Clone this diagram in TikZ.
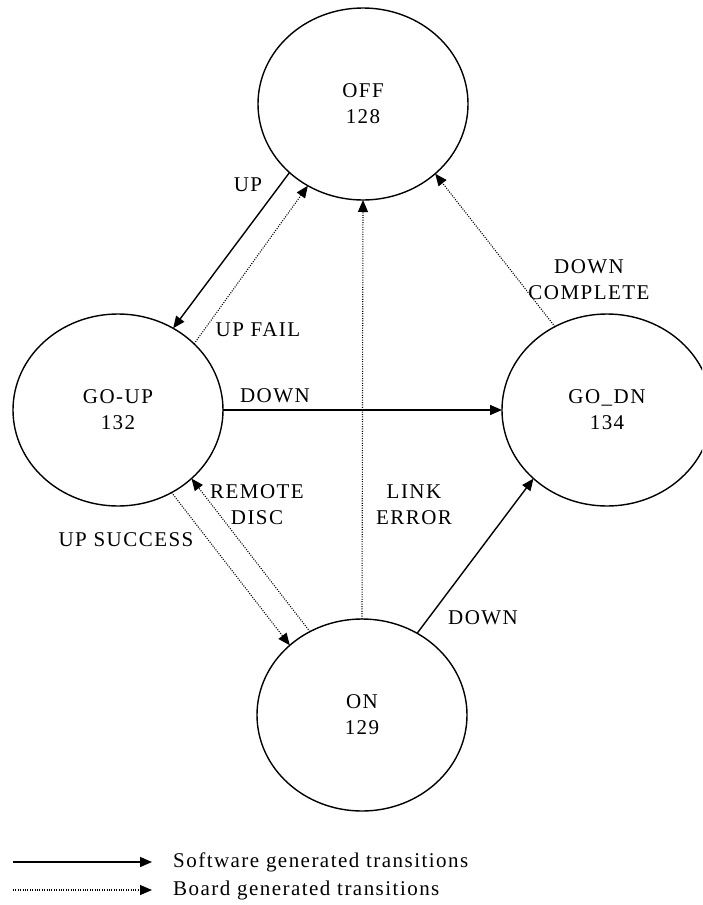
\documentclass[tikz,border=0pt]{standalone}
\usepackage{fontspec}
\setmainfont{Liberation Serif}[LetterSpace=7]
\usetikzlibrary{arrows.meta,shapes.geometric}
\tikzset{
  state/.style={ellipse, draw, line width=1.4pt, minimum width=210pt, minimum height=192pt,
    inner sep=0pt, outer sep=0pt, align=center, font=\fontsize{21}{26}\selectfont},
  lbl/.style={inner sep=0pt, align=center, font=\fontsize{21}{26}\selectfont},
  sw/.style={line width=1.4pt, -{Triangle[length=12pt,width=10pt]}},
  bd/.style={line width=1.1pt, dash pattern=on 1pt off 1.4pt, -{Triangle[length=12pt,width=10pt]}},
}
\begin{document}
\begin{tikzpicture}[x=1pt,y=-1pt]
\useasboundingbox (0,0) rectangle (702,905);
\clip (0,0) rectangle (702,905);
\node[state] (off) at (363,104) {OFF\\128};
\node[state] (goup) at (118,410) {GO-UP\\132};
\node[state] (godn) at (607,410) {GO\_DN\\134};
\node[state] (on) at (362,715) {ON\\129};

\draw[sw] (off.223.4) -- (goup.56.1);
\draw[bd] (goup.41.8) -- (off.236.8);
\draw[bd] (godn.122.9) -- (off.316.2);
\draw[sw] (goup.east) -- (godn.west);
\draw[bd] (on.north) -- (off.south);
\draw[bd] (on.122.9) -- (goup.317);
\draw[bd] (goup.303.5) -- (on.136.6);
\draw[sw] (on.56.1) -- (godn.223.3);

\node[lbl] (lup) at (248,185) {UP};
\node[lbl] (lupfail) at (258,330) {UP FAIL};
\node[lbl] (ldc) at (589,280) {DOWN\\COMPLETE};
\node[lbl] (ldown1) at (275,396) {DOWN};
\node[lbl] (lrd) at (257,505) {REMOTE\\DISC};
\node[lbl] (lle) at (414,505) {LINK\\ERROR};
\node[lbl] (lus) at (126,540) {UP SUCCESS};
\node[lbl] (ldown2) at (483,618) {DOWN};

\coordinate (l1a) at (13,862);
\coordinate (l1b) at (152,862);
\coordinate (l2a) at (13,890);
\coordinate (l2b) at (152,890);
\draw[sw] (l1a) -- (l1b);
\draw[bd] (l2a) -- (l2b);
\node[lbl, anchor=west] (t1) at (173,862) {Software generated transitions};
\node[lbl, anchor=west] (t2) at (173,890) {Board generated transitions};
\end{tikzpicture}
\end{document}
